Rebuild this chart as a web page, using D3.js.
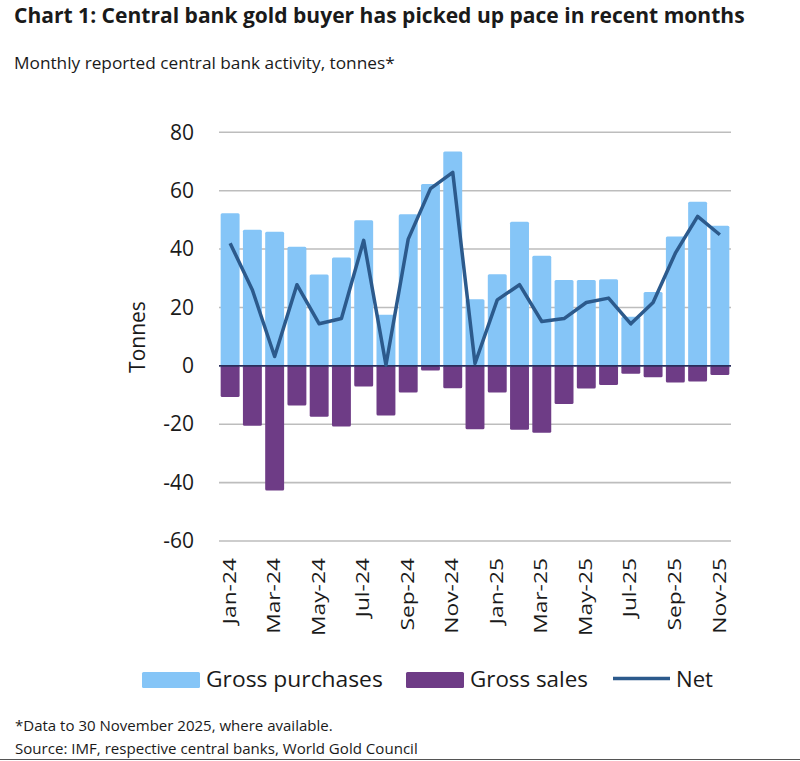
<!DOCTYPE html>
<html><head><meta charset="utf-8">
<script src="https://cdn.jsdelivr.net/npm/d3@7"></script>
<style>body{margin:0;background:#fff}svg{display:block}text{font-family:"Open Sans","Noto Sans",sans-serif;fill:#1a1a1a}</style>
</head><body><svg id="c" width="800" height="761"></svg>
<script>
const months = ["Jan-24","Feb-24","Mar-24","Apr-24","May-24","Jun-24","Jul-24","Aug-24","Sep-24","Oct-24","Nov-24","Dec-24","Jan-25","Feb-25","Mar-25","Apr-25","May-25","Jun-25","Jul-25","Aug-25","Sep-25","Oct-25","Nov-25"];
const grossPurchases = [52.3,46.6,45.9,40.8,31.3,37.1,49.9,17.5,51.9,62.3,73.4,22.8,31.4,49.4,37.7,29.4,29.4,29.7,16.8,25.3,44.3,56.2,48.0];
const grossSales = [-10.7,-20.5,-42.7,-13.6,-17.4,-20.8,-7.1,-17.0,-9.1,-1.6,-7.7,-21.7,-9.1,-21.9,-22.9,-13.1,-7.8,-6.6,-2.7,-3.9,-5.7,-5.4,-3.1];
const net = [42.0,26.0,3.2,27.8,14.4,16.2,43.0,0.3,43.4,60.7,66.3,0.8,22.6,27.8,15.2,16.2,21.7,23.2,14.4,21.7,38.6,51.2,44.9];
const yTicks = [80,60,40,20,0,-20,-40,-60];
const xTickLabels = ["Jan-24","Mar-24","May-24","Jul-24","Sep-24","Nov-24","Jan-25","Mar-25","May-25","Jul-25","Sep-25","Nov-25"];

const svg = d3.select("#c");
const C = {blue:"#85C5F7", purple:"#6E3C86", net:"#2C5A8C", grid:"#BDBDBD", zero:"#2A2E5C"};

function fit(t, x, y, w, rot) {
  const len = t.node().getComputedTextLength();
  const s = w / len;
  t.attr("x", 0).attr("y", 0)
   .attr("transform", `translate(${x},${y})${rot ? " rotate(" + rot + ")" : ""} scale(${s},1)`);
}

const x = d3.scaleBand().domain(months).range([219, 731]).paddingInner(0.15).paddingOuter(0.075);
const y = d3.scaleLinear().domain([-60, 80]).range([541, 132.3]);

fit(svg.append("text").attr("font-size", 21).attr("font-weight", 700)
  .text("Chart 1: Central bank gold buyer has picked up pace in recent months"), 14, 23, 731);
fit(svg.append("text").attr("font-size", 16)
  .text("Monthly reported central bank activity, tonnes*"), 14, 69, 381);

const yAxis = d3.axisLeft(y).tickValues(yTicks).tickSize(0).tickPadding(0).tickFormat(d => String(d));
const gy = svg.append("g").attr("transform", "translate(194,0)").call(yAxis);
gy.select(".domain").remove();
gy.selectAll("text").attr("font-size", 21).attr("fill", "#1a1a1a").attr("font-family", '"Open Sans",sans-serif');

svg.append("g").selectAll("line").data(yTicks.filter(d => d !== 0)).join("line")
  .attr("x1", 219).attr("x2", 731).attr("y1", d => y(d)).attr("y2", d => y(d))
  .attr("stroke", C.grid).attr("stroke-width", 1.6);

svg.append("g").selectAll("rect").data(months).join("rect")
  .attr("x", d => x(d)).attr("width", x.bandwidth())
  .attr("y", (d, i) => y(grossPurchases[i])).attr("height", (d, i) => y(0) - y(grossPurchases[i]))
  .attr("rx", 1.5).attr("fill", C.blue);
svg.append("g").selectAll("rect").data(months).join("rect")
  .attr("x", d => x(d)).attr("width", x.bandwidth())
  .attr("y", y(0)).attr("height", (d, i) => y(grossSales[i]) - y(0))
  .attr("rx", 1.5).attr("fill", C.purple);

svg.append("line").attr("x1", 219).attr("x2", 731).attr("y1", y(0)).attr("y2", y(0))
  .attr("stroke", C.zero).attr("stroke-width", 1.6);

svg.append("path").datum(net)
  .attr("d", d3.line().x((d, i) => x(months[i]) + x.bandwidth() / 2).y(d => y(d)))
  .attr("fill", "none").attr("stroke", C.net).attr("stroke-width", 3.5).attr("stroke-linejoin", "round");

const gx = svg.append("g");
xTickLabels.forEach(m => {
  const t = gx.append("text").attr("font-size", 19).attr("text-anchor", "end").attr("dy", "0.35em").text(m);
  const cx = x(m) + x.bandwidth() / 2 - 1;
  fit(t, cx, 558, t.node().getComputedTextLength() * 1.2, -90);
});

const yt = svg.append("text").attr("font-size", 21).attr("text-anchor", "middle").attr("dy", "0.35em").text("Tonnes");
yt.attr("transform", "translate(138,337) rotate(-90)");

// legend
svg.append("rect").attr("x", 142).attr("y", 672).attr("width", 58).attr("height", 16).attr("rx", 1.5).attr("fill", C.blue);
fit(svg.append("text").attr("font-size", 22).text("Gross purchases"), 206, 687, 177);
svg.append("rect").attr("x", 406).attr("y", 672).attr("width", 58).attr("height", 16).attr("rx", 1.5).attr("fill", C.purple);
fit(svg.append("text").attr("font-size", 22).text("Gross sales"), 470, 687, 118);
svg.append("line").attr("x1", 613).attr("x2", 670).attr("y1", 678.5).attr("y2", 678.5).attr("stroke", C.net).attr("stroke-width", 3.5);
fit(svg.append("text").attr("font-size", 22).text("Net"), 676, 687, 37);

// footnotes
fit(svg.append("text").attr("font-size", 15).text("*Data to 30 November 2025, where available."), 15, 730.5, 318);
fit(svg.append("text").attr("font-size", 15).text("Source: IMF, respective central banks, World Gold Council"), 15, 754, 403);
svg.append("line").attr("x1", 0).attr("x2", 800).attr("y1", 759.5).attr("y2", 759.5).attr("stroke", "#555").attr("stroke-width", 1);
</script></body></html>
